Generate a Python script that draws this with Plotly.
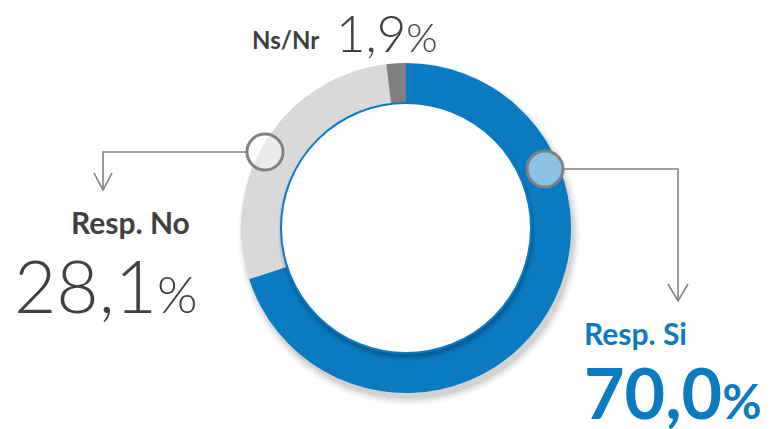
import plotly.graph_objects as go

# ---- data ----
labels = ["Resp. Si", "Resp. No", "Ns/Nr"]
values = [70.0, 28.1, 1.9]
value_text = ["70,0", "28,1", "1,9"]
colors = ["#0A7BC0", "#D9D9D9", "#7F7F7F"]

W, H = 775, 429
CX, CY, R_OUT, R_IN = 406, 228, 165, 125

def px(x):
    return x / W

def py(y):
    return 1 - y / H

fig = go.Figure()
fig.add_trace(go.Pie(
    labels=labels, values=values, sort=False, direction="clockwise", rotation=0,
    hole=0.72, marker=dict(colors=colors, line=dict(width=0)),
    textinfo="none", hoverinfo="label+percent", showlegend=False,
    domain=dict(x=[px(CX - R_OUT), px(CX + R_OUT)], y=[py(CY + R_OUT), py(CY - R_OUT)]),
))

shapes = []
# soft drop shadow under ring
for k, a in [(6, 0.03), (4, 0.04), (2, 0.05), (0, 0.06)]:
    r = R_OUT + k
    shapes.append(dict(type="circle", xref="paper", yref="paper", layer="below",
                       x0=px(CX + 3 - r), x1=px(CX + 3 + r), y0=py(CY + 6 + r), y1=py(CY + 6 - r),
                       fillcolor=f"rgba(0,0,0,{a})", line=dict(width=0)))
# shadow cast by inner disc
for k, a in [(4, 0.06), (2, 0.1), (0, 0.14)]:
    r = R_IN + k
    shapes.append(dict(type="circle", xref="paper", yref="paper", layer="above",
                       x0=px(CX + 1 - r), x1=px(CX + 1 + r), y0=py(CY + 4 + r), y1=py(CY + 4 - r),
                       fillcolor=f"rgba(0,20,50,{a})", line=dict(width=0)))
# inner white disc with blue border
shapes.append(dict(type="circle", xref="paper", yref="paper", layer="above",
                   x0=px(CX - R_IN), x1=px(CX + R_IN), y0=py(CY + R_IN), y1=py(CY - R_IN),
                   fillcolor="white", line=dict(color="#0A7BC0", width=2)))

LC = "#808080"
# left leader: circle -> left -> down with open arrow
shapes.append(dict(type="path", xref="paper", yref="paper", layer="above",
                   path=f"M {px(247)},{py(152)} L {px(103)},{py(152)} L {px(103)},{py(190)}",
                   line=dict(color=LC, width=1.6)))
shapes.append(dict(type="path", xref="paper", yref="paper", layer="above",
                   path=f"M {px(94)},{py(173)} L {px(103)},{py(190)} L {px(112)},{py(173)}",
                   line=dict(color=LC, width=1.6)))
# right leader
shapes.append(dict(type="path", xref="paper", yref="paper", layer="above",
                   path=f"M {px(563)},{py(169)} L {px(678)},{py(169)} L {px(678)},{py(301)}",
                   line=dict(color=LC, width=1.6)))
shapes.append(dict(type="path", xref="paper", yref="paper", layer="above",
                   path=f"M {px(668)},{py(284)} L {px(678)},{py(301)} L {px(688)},{py(284)}",
                   line=dict(color=LC, width=1.6)))
# marker circles
for (mx, my, fill) in [(265, 152, "rgba(255,255,255,0.45)"), (545, 169, "#8CC2E3")]:
    r = 18
    shapes.append(dict(type="circle", xref="paper", yref="paper", layer="above",
                       x0=px(mx - r), x1=px(mx + r), y0=py(my + r), y1=py(my - r),
                       fillcolor=fill, line=dict(color=LC, width=3)))

DARK = "#404040"
BLUE = "#0A7BC0"
FONT = "Lato"

def ann(x, y, text, size, color, weight="normal"):
    return dict(x=px(x), y=py(y), xref="paper", yref="paper", xanchor="left", yanchor="middle",
                text=text, showarrow=False, font=dict(family=FONT, size=size, color=color, weight=weight))

pct = "<span style='font-size:{}px'>%</span>"
annotations = [
    ann(250, 40, "<b>" + labels[2] + "</b>", 24, DARK),
    ann(334, 32, value_text[2] + pct.format(40), 51, DARK, 300),
    ann(69, 222, "<b>" + labels[1] + "</b>", 30, DARK),
    ann(12, 285, value_text[1] + pct.format(52), 73, DARK, 300),
    ann(582, 333, "<b>" + labels[0] + "</b>", 30, BLUE),
    ann(582, 392, "<b>" + value_text[0] + pct.format(48) + "</b>", 70, BLUE),
]

fig.update_layout(width=W, height=H, margin=dict(l=0, r=0, t=0, b=0),
                  paper_bgcolor="white", plot_bgcolor="white",
                  shapes=shapes, annotations=annotations)
fig.write_html("out.html", config={"displayModeBar": False},
               post_script="document.body.style.margin='0';document.body.style.overflow='hidden';")
